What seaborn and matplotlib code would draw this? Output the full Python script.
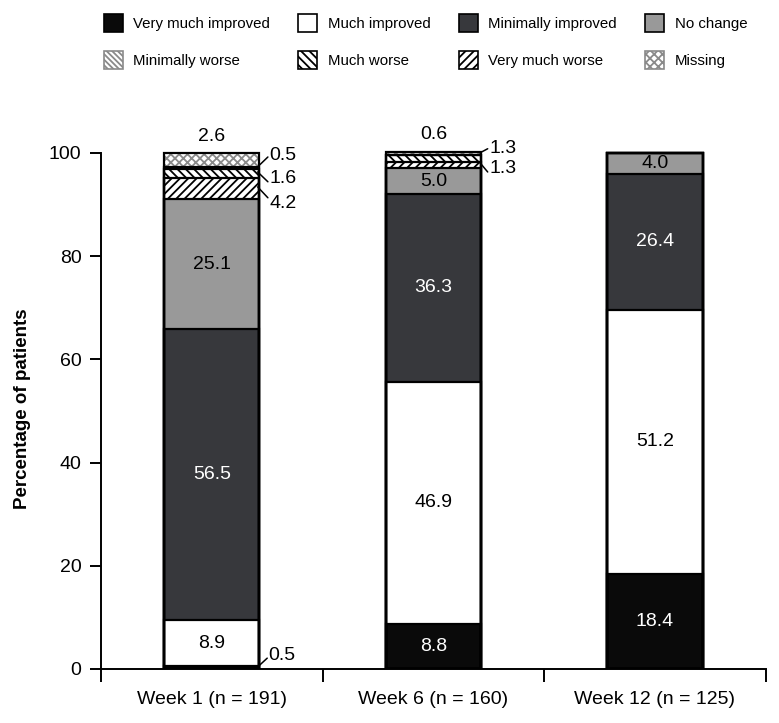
import seaborn as sns
import matplotlib.pyplot as plt
from matplotlib.patches import Patch
import numpy as np

# Data (percentage of patients per CGI-I category)
weeks = ['Week 1 (n = 191)', 'Week 6 (n = 160)', 'Week 12 (n = 125)']
very_much_improved = [0.5, 8.8, 18.4]
much_improved = [8.9, 46.9, 51.2]
minimally_improved = [56.5, 36.3, 26.4]
no_change = [25.1, 5.0, 4.0]
minimally_worse = [0.5, 0.0, 0.0]
much_worse = [1.6, 1.3, 0.0]
very_much_worse = [4.2, 1.3, 0.0]
missing = [2.6, 0.6, 0.0]

sns.set_style('ticks', {'axes.edgecolor': 'black', 'text.color': 'black',
                        'axes.labelcolor': 'black', 'xtick.color': 'black',
                        'ytick.color': 'black'})
plt.rcParams['font.family'] = ['Liberation Sans', 'DejaVu Sans']
plt.rcParams['hatch.linewidth'] = 1.3

DARK = '#37383c'
GREY = '#999999'
HGREY = '#8a8a8a'

# stacking order (bottom -> top): name, values, fill, hatch, hatch colour
layers = [
    ('Very much improved', very_much_improved, '#0a0a0a', None, 'black'),
    ('Much improved', much_improved, 'white', None, 'black'),
    ('Minimally improved', minimally_improved, DARK, None, 'black'),
    ('No change', no_change, GREY, None, 'black'),
    ('Very much worse', very_much_worse, 'white', '////', 'black'),
    ('Much worse', much_worse, 'white', '\\\\\\\\', 'black'),
    ('Minimally worse', minimally_worse, 'white', '\\\\\\\\\\\\', HGREY),
    ('Missing', missing, 'white', 'xxxx', HGREY),
]

cum = np.cumsum([np.array(v) for _, v, _, _, _ in layers], axis=0)

fig = plt.figure(figsize=(7.79, 7.23), dpi=100)
ax = fig.add_axes([0.1297, 0.0747, 0.8533, 0.721])

bw = 0.43
# cumulative bars drawn from the top layer down, so each shows its own segment
for i in range(len(layers) - 1, -1, -1):
    name, vals, face, hatch, hcol = layers[i]
    sns.barplot(x=weeks, y=cum[i], color=face, saturation=1, width=bw,
                edgecolor=hcol, hatch=hatch, linewidth=1.2, errorbar=None, ax=ax)
# black outline on every segment boundary
for i in range(len(layers)):
    sns.barplot(x=weeks, y=cum[i], fill=False, color='black', saturation=1,
                width=bw, linewidth=1.6, errorbar=None, ax=ax)

# value labels inside segments
inside = {
    'Very much improved': 'white', 'Much improved': 'black',
    'Minimally improved': 'white', 'No change': 'black',
}
for i, (name, vals, face, hatch, hcol) in enumerate(layers):
    if name not in inside:
        continue
    for j, v in enumerate(vals):
        if v < 3.5:
            continue
        ax.text(j, cum[i][j] - v / 2, f'{v:.1f}', ha='center', va='center',
                fontsize=14, color=inside[name])

# small values outside the bars, with leader lines
ax.text(0, 103.1, f'{missing[0]:.1f}', ha='center', va='center', fontsize=14)
ax.text(1, 103.5, f'{missing[1]:.1f}', ha='center', va='center', fontsize=14)
line = dict(arrowstyle='-', color='black', lw=1.1, shrinkA=0, shrinkB=0)
outs = [
    (0, minimally_worse[0], (0.207, 97.3), (0.253, 99.2), 99.4),
    (0, much_worse[0], (0.207, 96.3), (0.253, 94.4), 95.0),
    (0, very_much_worse[0], (0.207, 93.4), (0.253, 91.3), 90.2),
    (0, very_much_improved[0], (0.207, 0.4), (0.25, 2.1), 2.7),
    (1, much_worse[1], (0.21, 100.0), (0.245, 100.8), 100.9),
    (1, very_much_worse[1], (0.21, 98.1), (0.245, 96.3), 96.9),
]
for j, v, p0, p1, ty in outs:
    ax.annotate('', xy=(j + p0[0], p0[1]), xytext=(j + p1[0], p1[1]),
                arrowprops=line, annotation_clip=False)
    ax.text(j + p1[0] + 0.006, ty, f'{v:.1f}', ha='left', va='center', fontsize=14)

# axes styling
ax.set_xlim(-0.5, 2.5)
ax.set_ylim(0, 101)
sns.despine(ax=ax)
ax.spines['left'].set_bounds(0, 100)
ax.spines['left'].set_linewidth(1.4)
ax.spines['bottom'].set_linewidth(1.4)
ax.set_yticks([0, 20, 40, 60, 80, 100])
ax.tick_params(axis='y', length=8, width=1.4, labelsize=14, pad=6)
ax.set_xticks([-0.5, 0.5, 1.5, 2.5])
ax.set_xticklabels([])
ax.tick_params(axis='x', which='major', length=9, width=1.4)
ax.set_xticks([0, 1, 2], minor=True)
ax.set_xticklabels(weeks, minor=True)
ax.tick_params(axis='x', which='minor', length=0, labelsize=14, pad=16)
ax.set_ylabel('Percentage of patients', fontsize=13.5, fontweight='bold')
ax.yaxis.set_label_coords(-0.105, 0.5)
ax.set_xlabel('')

# legend, two rows of four (matplotlib fills column-wise)
legend_items = [
    ('Very much improved', '#0a0a0a', None, 'black'),
    ('Much improved', 'white', None, 'black'),
    ('Minimally improved', DARK, None, 'black'),
    ('No change', GREY, None, 'black'),
    ('Minimally worse', 'white', '\\\\\\\\\\\\', HGREY),
    ('Much worse', 'white', '\\\\\\\\', 'black'),
    ('Very much worse', 'white', '////', 'black'),
    ('Missing', 'white', 'xxxx', HGREY),
]
col_order = [0, 4, 1, 5, 2, 6, 3, 7]
handles = [Patch(facecolor=legend_items[k][1], hatch=legend_items[k][2],
                 edgecolor=legend_items[k][3], linewidth=1.2) for k in col_order]
labels = [legend_items[k][0] for k in col_order]
fig.legend(handles, labels, ncol=4, loc='upper left', bbox_to_anchor=(0.116, 1.0),
           frameon=False, fontsize=10.8, handlelength=1.25, handleheight=1.5,
           columnspacing=1.9, labelspacing=1.25, handletextpad=0.7)

fig.savefig('out.png', dpi=100)
